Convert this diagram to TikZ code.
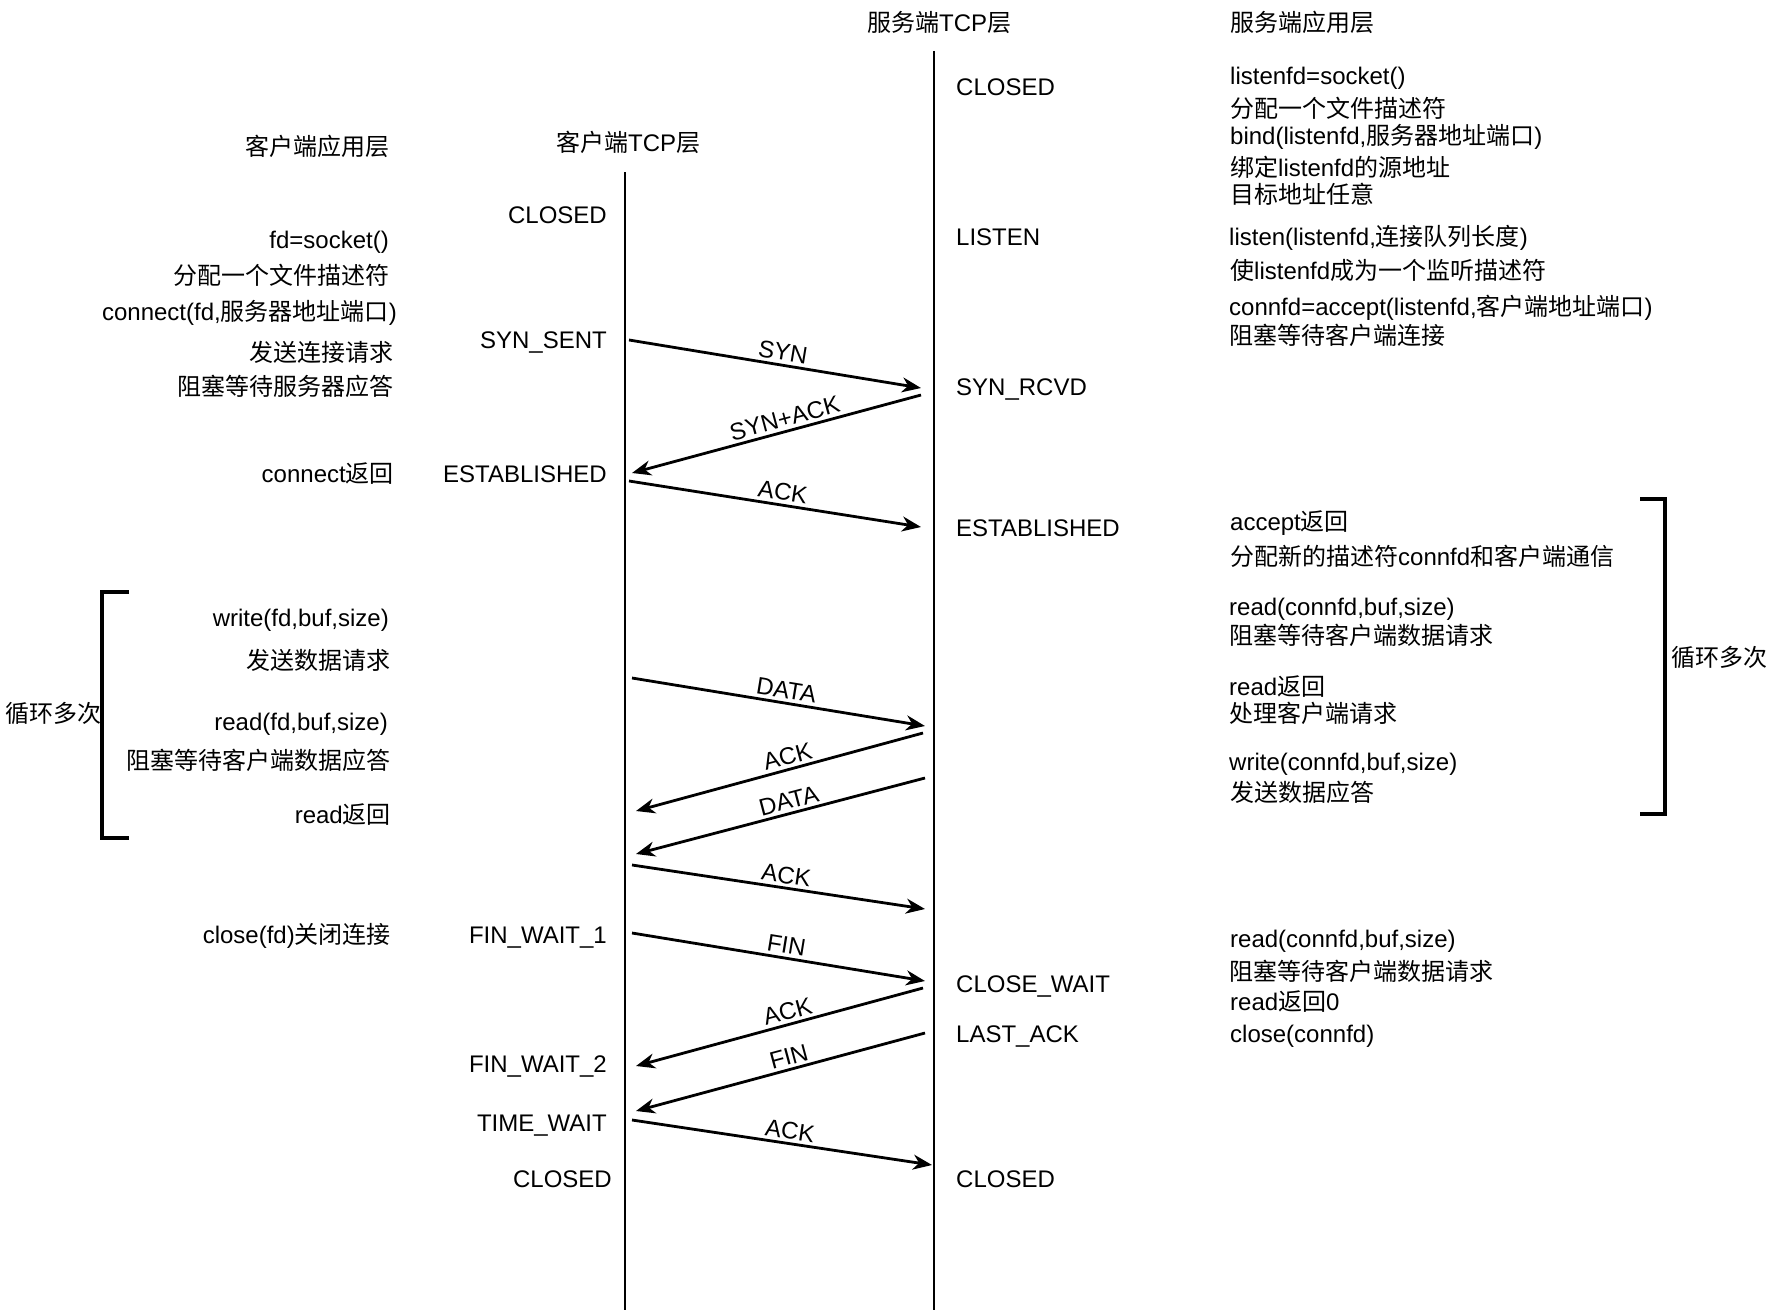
\documentclass[tikz,border=0pt]{standalone}
\usepackage{fontspec}
\usepackage{tikz}
\usetikzlibrary{arrows.meta, positioning}
\setmainfont{Liberation Sans}
\newfontfamily\cjkfont{Noto Sans CJK SC}
% switch to the CJK font for Han characters
\XeTeXinterchartokenstate=1
\newXeTeXintercharclass\hanclass
\count255="4E00
\loop
  \XeTeXcharclass\count255=\hanclass
  \advance\count255 by 1
\ifnum\count255<"9FA6 \repeat
\XeTeXinterchartoks 0 \hanclass = {\begingroup\cjkfont}
\XeTeXinterchartoks 4095 \hanclass = {\begingroup\cjkfont}
\XeTeXinterchartoks \hanclass 0 = {\endgroup}
\XeTeXinterchartoks \hanclass 4095 = {\endgroup}

\begin{document}
\begin{tikzpicture}[x=1pt, y=-1pt,
    txt/.style={inner sep=0pt, text height=20pt, text depth=3pt, font=\fontsize{24}{29}\selectfont},
    capp/.style={txt, anchor=east},
    sapp/.style={txt, anchor=west},
    msg/.style={-{Stealth[length=19pt, width=15pt, inset=6pt]}, line width=2.8pt},
    msglbl/.style={sloped, above, inner sep=3pt, font=\fontsize{24}{29}\selectfont},
    tolbl/.style={msglbl, pos=0.52},
    backlbl/.style={msglbl, pos=0.46},
    lifeline/.style={line width=2.6pt},
    loopbracket/.style={line width=3.2pt}]

    \useasboundingbox (0,0) rectangle (1778,1314);

    % headers
    \node[sapp] (hstcp) at (867,23) {服务端TCP层};
    \node[sapp] (hsapp) at (1230,23) {服务端应用层};
    \node[sapp] (hcapp) at (245,147) {客户端应用层};
    \node[sapp] (hctcp) at (556,143) {客户端TCP层};

    % lifelines
    \coordinate (ctop) at (625,172);
    \coordinate (cbot) at (625,1310);
    \coordinate (stop) at (934,51);
    \coordinate (sbot) at (934,1310);
    \draw[lifeline] (ctop) -- (cbot);
    \draw[lifeline] (stop) -- (sbot);

    % client TCP states
    \node[capp] (cs1) at (607,215) {CLOSED};
    \node[capp] (cs2) at (607,340) {SYN\_SENT};
    \node[capp] (cs3) at (607,474) {ESTABLISHED};
    \node[capp] (cs4) at (607,935) {FIN\_WAIT\_1};
    \node[capp] (cs5) at (607,1064) {FIN\_WAIT\_2};
    \node[capp] (cs6) at (607,1123) {TIME\_WAIT};
    \node[capp] (cs7) at (612,1179) {CLOSED};

    % server TCP states
    \node[sapp] (ss1) at (956,87) {CLOSED};
    \node[sapp] (ss2) at (956,237) {LISTEN};
    \node[sapp] (ss3) at (956,387) {SYN\_RCVD};
    \node[sapp] (ss4) at (956,528) {ESTABLISHED};
    \node[sapp] (ss5) at (956,984) {CLOSE\_WAIT};
    \node[sapp] (ss6) at (956,1034) {LAST\_ACK};
    \node[sapp] (ss7) at (956,1179) {CLOSED};

    % client application
    \node[capp] (ca1) at (389,240) {fd=socket()};
    \node[capp] (ca2) at (390,276) {分配一个文件描述符};
    \node[capp] (ca3) at (397,312) {connect(fd,服务器地址端口)};
    \node[capp] (ca4) at (394,353) {发送连接请求};
    \node[capp] (ca5) at (394,387) {阻塞等待服务器应答};
    \node[capp] (ca6) at (394,474) {connect返回};
    \node[capp] (ca7) at (389,618) {write(fd,buf,size)};
    \node[capp] (ca8) at (391,661) {发送数据请求};
    \node[capp] (ca9) at (388,722) {read(fd,buf,size)};
    \node[capp] (ca10) at (391,761) {阻塞等待客户端数据应答};
    \node[capp] (ca11) at (391,815) {read返回};
    \node[capp] (ca12) at (391,935) {close(fd)关闭连接};

    % server application
    \node[sapp] (sa1) at (1230,76) {listenfd=socket()};
    \node[sapp] (sa2) at (1230,109) {分配一个文件描述符};
    \node[sapp] (sa3) at (1230,136) {bind(listenfd,服务器地址端口)};
    \node[sapp] (sa4) at (1230,168) {绑定listenfd的源地址};
    \node[sapp] (sa5) at (1230,195) {目标地址任意};
    \node[sapp] (sa6) at (1229,237) {listen(listenfd,连接队列长度)};
    \node[sapp] (sa7) at (1230,271) {使listenfd成为一个监听描述符};
    \node[sapp] (sa8) at (1229,307) {connfd=accept(listenfd,客户端地址端口)};
    \node[sapp] (sa9) at (1229,336) {阻塞等待客户端连接};
    \node[sapp] (sa10) at (1230,522) {accept返回};
    \node[sapp] (sa11) at (1230,557) {分配新的描述符connfd和客户端通信};
    \node[sapp] (sa12) at (1229,607) {read(connfd,buf,size)};
    \node[sapp] (sa13) at (1229,636) {阻塞等待客户端数据请求};
    \node[sapp] (sa14) at (1229,687) {read返回};
    \node[sapp] (sa15) at (1229,714) {处理客户端请求};
    \node[sapp] (sa16) at (1229,762) {write(connfd,buf,size)};
    \node[sapp] (sa17) at (1230,793) {发送数据应答};
    \node[sapp] (sa18) at (1230,939) {read(connfd,buf,size)};
    \node[sapp] (sa19) at (1229,972) {阻塞等待客户端数据请求};
    \node[sapp] (sa20) at (1230,1002) {read返回0};
    \node[sapp] (sa21) at (1230,1034) {close(connfd)};

    % loop brackets
    \draw[loopbracket] (129,592) -- (102,592) -- (102,838) -- (129,838);
    \node[sapp] (lpl) at (5,714) {循环多次};
    \draw[loopbracket] (1640,499) -- (1665,499) -- (1665,814) -- (1640,814);
    \node[sapp] (lpr) at (1671,658) {循环多次};

    % message end points
    \coordinate (c1) at (629,340);   \coordinate (s1) at (921,388);
    \coordinate (s2) at (921,395);   \coordinate (c2) at (632,473);
    \coordinate (c3) at (629,481);   \coordinate (s3) at (921,527);
    \coordinate (c4) at (632,678);   \coordinate (s4) at (925,726);
    \coordinate (s5) at (923,733);   \coordinate (c5) at (636,811);
    \coordinate (s6) at (925,778);   \coordinate (c6) at (636,854);
    \coordinate (c7) at (632,865);   \coordinate (s7) at (925,909);
    \coordinate (c8) at (632,933);   \coordinate (s8) at (925,981);
    \coordinate (s9) at (923,988);   \coordinate (c9) at (636,1066);
    \coordinate (s10) at (925,1033); \coordinate (c10) at (636,1111);
    \coordinate (c11) at (632,1120); \coordinate (s11) at (932,1165);

    % messages
    \draw[msg] (c1) -- node[tolbl] {SYN} (s1);
    \draw[msg] (s2) -- node[backlbl] {SYN+ACK} (c2);
    \draw[msg] (c3) -- node[tolbl] {ACK} (s3);
    \draw[msg] (c4) -- node[tolbl] {DATA} (s4);
    \draw[msg] (s5) -- node[backlbl] {ACK} (c5);
    \draw[msg] (s6) -- node[backlbl] {DATA} (c6);
    \draw[msg] (c7) -- node[tolbl] {ACK} (s7);
    \draw[msg] (c8) -- node[tolbl] {FIN} (s8);
    \draw[msg] (s9) -- node[backlbl] {ACK} (c9);
    \draw[msg] (s10) -- node[backlbl] {FIN} (c10);
    \draw[msg] (c11) -- node[tolbl] {ACK} (s11);

\end{tikzpicture}
\end{document}
